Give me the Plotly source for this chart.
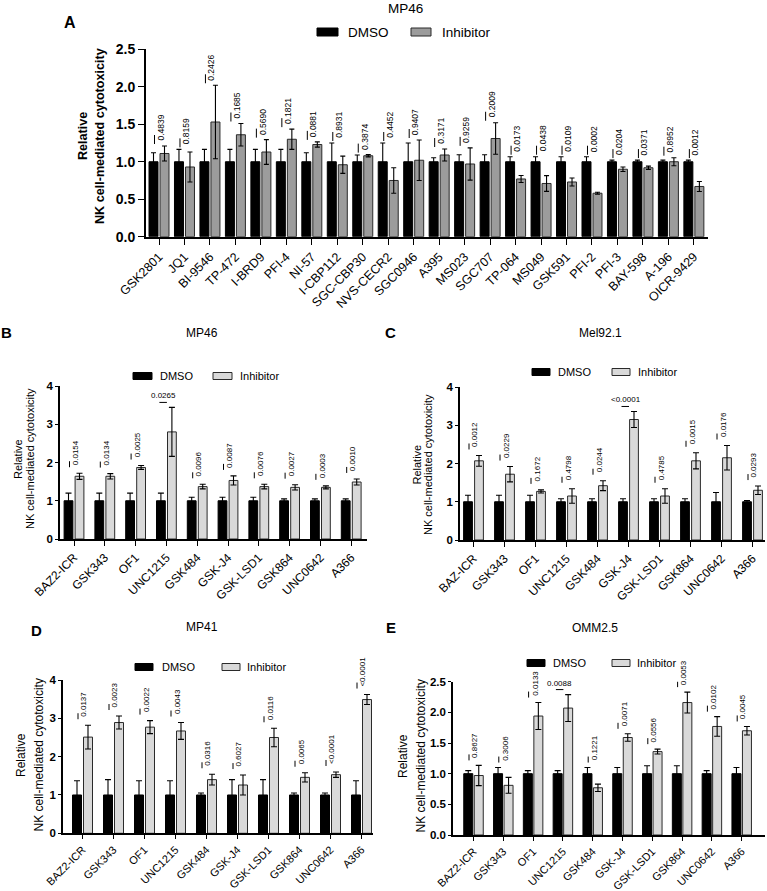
import plotly.graph_objects as go

W, H = 767, 891
FONT = "Arial, Liberation Sans, sans-serif"

# ---------------- data ----------------
# Panel A  (MP46)
a_cats = ["GSK2801", "JQ1", "BI-9546", "TP-472", "I-BRD9", "PFI-4", "NI-57", "I-CBP112",
          "SGC-CBP30", "NVS-CECR2", "SGC0946", "A395", "MS023", "SGC707", "TP-064", "MS049",
          "GSK591", "PFI-2", "PFI-3", "BAY-598", "A-196", "OICR-9429"]
a_dmso = [1.0, 1.0, 1.0, 1.0, 1.0, 1.0, 1.0, 1.0, 1.0, 1.0, 1.0,
          1.0, 1.0, 1.0, 1.0, 1.0, 1.0, 1.0, 1.0, 1.0, 1.0, 1.0]
a_dmso_err = [0.12, 0.165, 0.165, 0.165, 0.165, 0.165, 0.12, 0.25, 0.09, 0.25, 0.25,
              0.054, 0.094, 0.094, 0.067, 0.067, 0.067, 0.067, 0.022, 0.022, 0.022, 0.022]
a_inh = [1.11, 0.93, 1.53, 1.36, 1.13, 1.30, 1.23, 0.96, 1.08, 0.75, 1.02,
         1.09, 0.97, 1.31, 0.77, 0.71, 0.73, 0.58, 0.90, 0.92, 1.00, 0.67]
a_inh_err = [0.10, 0.20, 0.49, 0.15, 0.165, 0.135, 0.035, 0.115, 0.015, 0.17, 0.27,
             0.08, 0.215, 0.21, 0.047, 0.105, 0.053, 0.013, 0.03, 0.022, 0.054, 0.067]
a_p = ["0.4839", "0.8159", "0.2426", "0.1685", "0.5690", "0.1821", "0.0881", "0.8931",
       "0.3874", "0.4452", "0.9407", "0.3171", "0.9259", "0.2009", "0.0173", "0.0438",
       "0.0109", "0.0002", "0.0204", "0.0371", "0.8952", "0.0012"]

# Panel B (MP46)
b_cats = ["BAZ2-ICR", "GSK343", "OF1", "UNC1215", "GSK484", "GSK-J4", "GSK-LSD1", "GSK864", "UNC0642", "A366"]
b_dmso = [1.0, 1.0, 1.0, 1.0, 1.0, 1.0, 1.0, 1.0, 1.0, 1.0]
b_dmso_err = [0.2, 0.2, 0.2, 0.2, 0.09, 0.09, 0.09, 0.05, 0.05, 0.05]
b_inh = [1.64, 1.64, 1.87, 2.80, 1.37, 1.53, 1.37, 1.35, 1.35, 1.49]
b_inh_err = [0.08, 0.07, 0.05, 0.64, 0.06, 0.12, 0.06, 0.07, 0.04, 0.08]
b_p = ["0.0154", "0.0134", "0.0025", "0.0265", "0.0096", "0.0087", "0.0076", "0.0027", "0.0003", "0.0010"]

# Panel C (Mel92.1)
c_cats = ["BAZ-ICR", "GSK343", "OF1", "UNC1215", "GSK484", "GSK-J4", "GSK-LSD1", "GSK864", "UNC0642", "A366"]
c_dmso = [1.0, 1.0, 1.0, 1.0, 1.0, 1.0, 1.0, 1.0, 1.0, 1.0]
c_dmso_err = [0.17, 0.17, 0.17, 0.08, 0.08, 0.08, 0.08, 0.08, 0.24, 0.03]
c_inh = [2.07, 1.72, 1.27, 1.15, 1.42, 3.15, 1.15, 2.07, 2.15, 1.30]
c_inh_err = [0.14, 0.20, 0.04, 0.19, 0.13, 0.21, 0.19, 0.21, 0.32, 0.11]
c_p = ["0.0012", "0.0229", "0.1672", "0.4798", "0.0244", "<0.0001", "0.4785", "0.0015", "0.0176", "0.0293"]

# Panel D (MP41)
d_cats = ["BAZ2-ICR", "GSK343", "OF1", "UNC1215", "GSK484", "GSK-J4", "GSK-LSD1", "GSK864", "UNC0642", "A366"]
d_dmso = [1.0, 1.0, 1.0, 1.0, 1.0, 1.0, 1.0, 1.0, 1.0, 1.0]
d_dmso_err = [0.37, 0.40, 0.37, 0.37, 0.05, 0.40, 0.40, 0.05, 0.05, 0.37]
d_inh = [2.51, 2.89, 2.77, 2.67, 1.40, 1.26, 2.50, 1.46, 1.53, 3.49]
d_inh_err = [0.31, 0.17, 0.17, 0.22, 0.14, 0.26, 0.24, 0.12, 0.07, 0.13]
d_p = ["0.0137", "0.0023", "0.0022", "0.0043", "0.0316", "0.6027", "0.0116", "0.0065", "<0.0001", "<0.0001"]

# Panel E (OMM2.5)
e_cats = ["BAZ2-ICR", "GSK343", "OF1", "UNC1215", "GSK484", "GSK-J4", "GSK-LSD1", "GSK864", "UNC0642", "A366"]
e_dmso = [1.0, 1.0, 1.0, 1.0, 1.0, 1.0, 1.0, 1.0, 1.0, 1.0]
e_dmso_err = [0.05, 0.10, 0.05, 0.05, 0.10, 0.10, 0.13, 0.13, 0.05, 0.10]
e_inh = [0.97, 0.81, 1.94, 2.07, 0.77, 1.59, 1.36, 2.16, 1.77, 1.70]
e_inh_err = [0.165, 0.13, 0.22, 0.22, 0.06, 0.06, 0.04, 0.17, 0.16, 0.07]
e_p = ["0.8627", "0.3006", "0.0133", "0.0088", "0.1221", "0.0071", "0.0556", "0.0053", "0.0102", "0.0045"]

series_names = ["DMSO", "Inhibitor"]


def px(x):
    return x / W


def py(y):
    return 1 - y / H


fig = go.Figure()
shapes, annos, lay = [], [], {}


def add_panel(k, cats, dmso, dmso_err, inh, inh_err, pvals, horiz, g):
    sfx = '' if k == 1 else str(k)
    xa, ya = 'x' + sfx, 'y' + sfx
    n = len(cats)
    xs = list(range(n))
    dx = g['dx']
    bw = g['bw'] / dx
    gp = g['gap'] / dx
    upp = g['ymax'] / (g['yb'] - g['yt'])
    ebar = dict(type='data', visible=True, color='black', thickness=g['eth'], width=g['cap'])
    fig.add_trace(go.Bar(x=xs, y=dmso, width=bw, offset=-bw - gp / 2, name=series_names[0],
                         marker=dict(color='black', line=dict(color='black', width=1)),
                         error_y=dict(array=dmso_err, **ebar), xaxis=xa, yaxis=ya, showlegend=False))
    fig.add_trace(go.Bar(x=xs, y=inh, width=bw, offset=gp / 2, name=series_names[1],
                         marker=dict(color=g['fill'], line=dict(color='#2a2a2a', width=1)),
                         error_y=dict(array=inh_err, **ebar), xaxis=xa, yaxis=ya, showlegend=False))
    lay['xaxis' + sfx] = dict(domain=[px(g['xl']), px(g['xr'])],
                              range=[(g['xl'] - g['t0']) / dx, (g['xr'] - g['t0']) / dx],
                              anchor=ya, tickmode='array', tickvals=xs, ticktext=cats, tickangle=-45,
                              tickfont=dict(family=FONT, size=g['xfs'], color='black'),
                              showline=True, linecolor='black', linewidth=g['lw'],
                              ticks='outside', ticklen=g['xtl'], tickwidth=1.3, tickcolor='black',
                              showgrid=False, zeroline=False, fixedrange=True)
    lay['yaxis' + sfx] = dict(domain=[py(g['yb']), py(g['yt'])], range=[0, g['ymax']], anchor=xa,
                              tickmode='linear', tick0=0, dtick=g['dtick'], tickformat=g['fmt'],
                              tickfont=dict(family=FONT, size=g['yfs'], color='black', weight='bold'),
                              showline=True, linecolor='black', linewidth=g['lw'],
                              ticks='outside', ticklen=g['ytl'], tickwidth=1.3, tickcolor='black',
                              showgrid=False, zeroline=False, fixedrange=True)
    pf = dict(family=FONT, size=g['pfs'], color='black')
    for i in range(n):
        top = max(dmso[i] + dmso_err[i], inh[i] + inh_err[i])
        if i in horiz:
            yl = top + 5 * upp
            shapes.append(dict(type='line', xref=xa, yref=ya, x0=i - 7 / dx, x1=i + 0.5 / dx,
                               y0=yl, y1=yl, line=dict(color='black', width=1)))
            annos.append(dict(xref=xa, yref=ya, x=i - 3 / dx, y=yl, yanchor='bottom', xanchor='center',
                              text=pvals[i], showarrow=False, font=pf))
        else:
            y0 = top + g['pgap'] * upp
            y1 = y0 + g['plen'] * upp
            shapes.append(dict(type='line', xref=xa, yref=ya, x0=i - 4.5 / dx, x1=i - 4.5 / dx,
                               y0=y0, y1=y1, line=dict(color='black', width=1)))
            annos.append(dict(xref=xa, yref=ya, x=i + 1.5 / dx, y=y0, yshift=g['ptoff'], textangle=-90,
                              yanchor='bottom', xanchor='center', text=pvals[i], showarrow=False, font=pf))
    # y title (two lines)
    tf = dict(family=FONT, size=g['tfs'], color='black', weight=g['tfw'])
    annos.append(dict(xref='paper', yref='paper', x=px(g['rel_x']), y=py(g['ty']), text='Relative',
                      textangle=-90, showarrow=False, xanchor='center', yanchor='middle', font=tf))
    annos.append(dict(xref='paper', yref='paper', x=px(g['nk_x']), y=py(g['ty']),
                      text='NK cell-mediated cytotoxicity',
                      textangle=-90, showarrow=False, xanchor='center', yanchor='middle', font=tf))
    # panel letter and title
    annos.append(dict(xref='paper', yref='paper', x=px(g['let'][0]), y=py(g['let'][1]),
                      text='<b>' + g['letter'] + '</b>', showarrow=False, xanchor='center', yanchor='middle',
                      font=dict(family=FONT, size=g['lfs'], color='black')))
    annos.append(dict(xref='paper', yref='paper', x=px(g['title'][0]), y=py(g['title'][1]),
                      text=g['tname'], showarrow=False, xanchor='center', yanchor='middle',
                      font=dict(family=FONT, size=g['tifs'], color='black')))
    # legend
    lg = g['leg']
    hh = lg['h'] / 2
    for (bx0, bx1, tx, col, nm) in [(lg['d0'], lg['d1'], lg['dt'], 'black', series_names[0]),
                                    (lg['i0'], lg['i1'], lg['it'], g['fill'], series_names[1])]:
        shapes.append(dict(type='rect', xref='paper', yref='paper', x0=px(bx0), x1=px(bx1),
                           y0=py(lg['y'] + hh), y1=py(lg['y'] - hh), fillcolor=col,
                           line=dict(color='#2a2a2a' if col != 'black' else 'black', width=1)))
        annos.append(dict(xref='paper', yref='paper', x=px(tx), y=py(lg['y']), text=nm, showarrow=False,
                          xanchor='left', yanchor='middle', font=dict(family=FONT, size=lg['fs'], color='black')))


GA = dict(xl=146, xr=708, t0=159, dx=25.47, yt=49.3, yb=236.7, ymax=2.5, dtick=0.5, fmt='.1f',
          bw=9, gap=2, fill='#9c9c9c', eth=1.1, cap=2.5, lw=1.8, xfs=12.5, yfs=14, pfs=8.5, xtl=6, ytl=6,
          pgap=2, plen=9, ptoff=1, tfs=12.6, tfw='bold', rel_x=83, nk_x=100, ty=136, letter='A', let=(70, 22), lfs=16,
          tname='MP46', title=(405, 9), tifs=13.5,
          leg=dict(d0=317, d1=338, dt=346, i0=411, i1=431, it=440, y=32, h=8, fs=13.5))
GB = dict(xl=60, xr=366.7, t0=74, dx=30.8, yt=386, yb=539, ymax=4, dtick=1, fmt='d',
          bw=8.8, gap=2.2, fill='#d9d9d9', eth=1.1, cap=3, lw=1.6, xfs=12, yfs=11.5, pfs=8, xtl=5, ytl=3,
          pgap=6, plen=6, ptoff=0, tfs=11, tfw='normal', rel_x=18, nk_x=30, ty=459, letter='B', let=(6, 333), lfs=15,
          tname='MP46', title=(202, 333), tifs=12,
          leg=dict(d0=133, d1=152, dt=158, i0=213, i1=232, it=238, y=376, h=7, fs=11))
GC = dict(xl=460, xr=765, t0=473.5, dx=31, yt=387, yb=540, ymax=4, dtick=1, fmt='d',
          bw=8.8, gap=2.2, fill='#d9d9d9', eth=1.1, cap=3, lw=1.6, xfs=12, yfs=11.5, pfs=8, xtl=5, ytl=3,
          pgap=6, plen=6, ptoff=0, tfs=11, tfw='normal', rel_x=416.5, nk_x=428, ty=465, letter='C', let=(390.5, 332.5), lfs=15,
          tname='Mel92.1', title=(600, 333), tifs=12,
          leg=dict(d0=532, d1=550, dt=556, i0=612, i1=630, it=636, y=372, h=7, fs=11))
GD = dict(xl=63, xr=373, t0=82.5, dx=31, yt=680, yb=833.3, ymax=4, dtick=1, fmt='d',
          bw=9, gap=2, fill='#d9d9d9', eth=1.1, cap=3, lw=1.6, xfs=11, yfs=11.5, pfs=8, xtl=4, ytl=3,
          pgap=6, plen=6, ptoff=0, tfs=12, tfw='normal', rel_x=21, nk_x=38.5, ty=755, letter='D', let=(36, 630), lfs=15,
          tname='MP41', title=(202, 627), tifs=12,
          leg=dict(d0=135, d1=153, dt=160, i0=222, i1=240, it=245, y=667, h=7, fs=11))
GE = dict(xl=453, xr=765, t0=473.5, dx=29.8, yt=681.7, yb=835, ymax=2.5, dtick=0.5, fmt='.1f',
          bw=9, gap=1.5, fill='#d9d9d9', eth=1.1, cap=3, lw=1.6, xfs=11, yfs=11.5, pfs=8, xtl=4, ytl=3,
          pgap=5, plen=6, ptoff=0, tfs=12, tfw='normal', rel_x=403, nk_x=420.5, ty=756, letter='E', let=(391, 627.5), lfs=15,
          tname='OMM2.5', title=(595, 628), tifs=12,
          leg=dict(d0=527, d1=545, dt=551, i0=612, i1=630, it=635, y=663, h=7, fs=11))

add_panel(1, a_cats, a_dmso, a_dmso_err, a_inh, a_inh_err, a_p, set(), GA)
add_panel(2, b_cats, b_dmso, b_dmso_err, b_inh, b_inh_err, b_p, {3}, GB)
add_panel(3, c_cats, c_dmso, c_dmso_err, c_inh, c_inh_err, c_p, {5}, GC)
add_panel(4, d_cats, d_dmso, d_dmso_err, d_inh, d_inh_err, d_p, set(), GD)
add_panel(5, e_cats, e_dmso, e_dmso_err, e_inh, e_inh_err, e_p, {3}, GE)

fig.update_layout(width=W, height=H, margin=dict(l=0, r=0, t=0, b=0, pad=0, autoexpand=False),
                  paper_bgcolor='white', plot_bgcolor='rgba(0,0,0,0)', barmode='overlay',
                  showlegend=False, shapes=shapes, annotations=annos,
                  font=dict(family=FONT, color='black'), **lay)

fig.write_html("out.html", config=dict(displayModeBar=False))
